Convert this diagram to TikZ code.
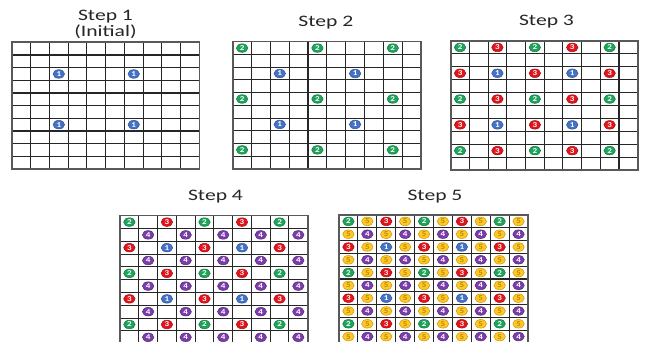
\documentclass[tikz,border=0pt]{standalone}
\usepackage{fontspec}
\usepackage{tikz}
\usetikzlibrary{shapes.geometric}
\newfontfamily\titlefont[FakeStretch=1.35]{Carlito}
\newfontfamily\badgefont[FakeStretch=1.2]{Carlito}
\definecolor{fill1}{HTML}{4472C4}
\definecolor{fill2}{HTML}{1EA35A}
\definecolor{fill3}{HTML}{E3131B}
\definecolor{fill4}{HTML}{7A3DAA}
\definecolor{fill5}{HTML}{FFC729}
\definecolor{edge1}{HTML}{2F5597}
\definecolor{edge2}{HTML}{127A40}
\definecolor{edge3}{HTML}{A80E14}
\definecolor{edge4}{HTML}{55287A}
\definecolor{edge5}{HTML}{C99A00}
\definecolor{digit1}{HTML}{FFFFFF}
\definecolor{digit2}{HTML}{FFFFFF}
\definecolor{digit3}{HTML}{FFFFFF}
\definecolor{digit4}{HTML}{FFFFFF}
\definecolor{digit5}{HTML}{B98A00}
\begin{document}
\begin{tikzpicture}[x=1pt,y=-1pt,
  title/.style={font=\titlefont\fontsize{16}{16}\selectfont,inner sep=0,align=center,text=black!85},
  cell/.style={black!85,line width=1.1pt},
  frame/.style={black!65,line width=1.6pt},
  badge/.style={ellipse,inner sep=0,minimum width=11.5pt,minimum height=8.6pt,line width=.5pt,
    font=\badgefont\bfseries\fontsize{7.5}{7.5}\selectfont}]
\useasboundingbox (0,0) rectangle (649,342);
\clip (0,0) rectangle (649,342);
\fill[white] (0,0) rectangle (649,342);
\node[title,anchor=north] (t1) at (105.5,10) {Step 1\\(Initial)};
\node[title,anchor=north] (t2) at (325.8,15.7) {Step 2};
\node[title,anchor=north] (t3) at (546.5,15.2) {Step 3};
\node[title,anchor=north] (t4) at (215.5,190) {Step 4};
\node[title,anchor=north] (t5) at (435,190) {Step 5};
\foreach \s/\gx/\gy/\cw/\ch in {1/12/42.3/18.73/12.67, 2/232.7/41.7/18.83/12.73,
    3/450.7/41/18.7/12.9, 4/120/215.7/18.77/12.8, 5/339/215/18.9/12.8}{
  \foreach \i in {1,...,9}{
    \draw[cell] (\gx+\i*\cw,\gy) -- (\gx+\i*\cw,\gy+10*\ch);
    \draw[cell] (\gx,\gy+\i*\ch) -- (\gx+10*\cw,\gy+\i*\ch);
  }
  \draw[frame] (\gx,\gy) rectangle (\gx+10*\cw,\gy+10*\ch);
  \foreach \r in {0,...,9}
    \foreach \c in {0,...,9}{
      \pgfmathtruncatemacro\v{ifthenelse(mod(\r,2)==0 && mod(\c,2)==0,
        ifthenelse(mod(\r,4)==0 && mod(\c,4)==0,2,ifthenelse(mod(\r,4)==2 && mod(\c,4)==2,1,3)),
        ifthenelse(mod(\r+\c,2)==0,4,5))}
      \ifnum\v>\s\relax\else
        \node[badge,fill=fill\v,draw=edge\v,text=digit\v] (b\s-\r-\c)
          at (\gx+\c*\cw+.5*\cw,\gy+\r*\ch+.5*\ch) {\v};
      \fi
    }
}
\end{tikzpicture}
\end{document}
